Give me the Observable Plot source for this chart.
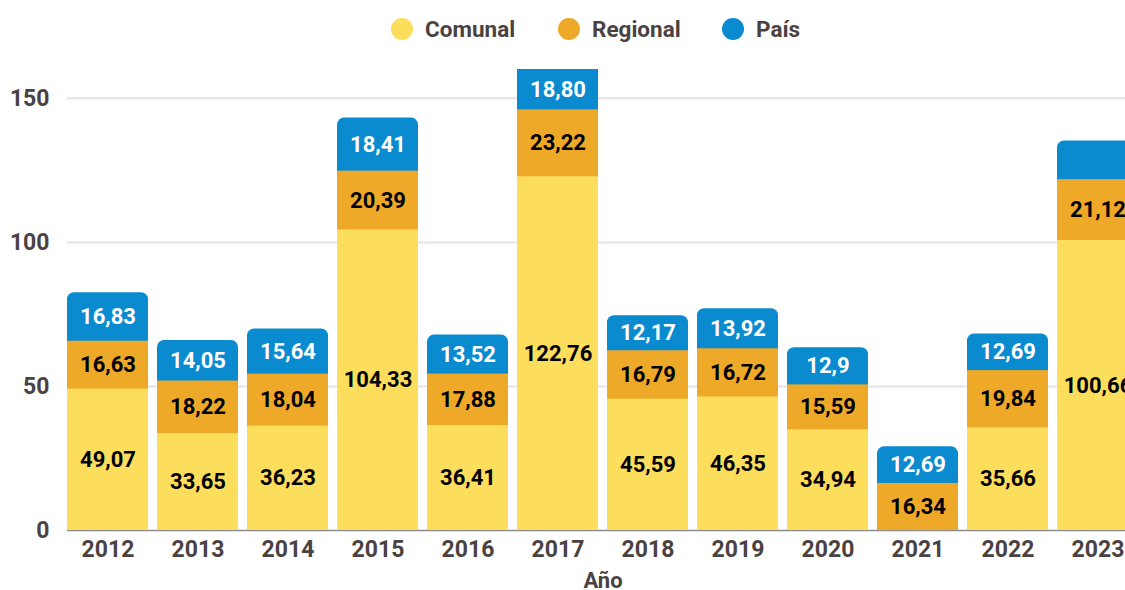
<!DOCTYPE html>
<html>
<head>
<meta charset="utf-8">
<script src="https://cdn.jsdelivr.net/npm/d3@7"></script>
<script src="https://cdn.jsdelivr.net/npm/@observablehq/plot@0.6"></script>
<style>
  html, body { margin: 0; padding: 0; background: #fff; overflow: hidden; }
  #wrap { position: relative; width: 1190px; height: 590px; font-family: Roboto, sans-serif; }
  #legend { position: absolute; left: 0; top: 0; width: 1190px; height: 56px; }
  .item { position: absolute; top: 16px; display: flex; align-items: center; font-weight: 700; font-size: 22.5px; color: #4a4242; white-space: nowrap; }
  .dot { width: 22px; height: 22px; border-radius: 50%; margin-right: 12px; }
  #chart { position: absolute; left: 0; top: 0; }
</style>
</head>
<body>
<div id="wrap">
  <div id="chart"></div>
  <div id="legend"></div>
</div>
<script>
const years = ["2012","2013","2014","2015","2016","2017","2018","2019","2020","2021","2022","2023"];
const seriesNames = ["Comunal", "Regional", "País"];
const seriesColors = ["#FDDD5C", "#EFA928", "#0A8ACF"];
const comunal  = ["49,07","33,65","36,23","104,33","36,41","122,76","45,59","46,35","34,94", null, "35,66","100,66"];
const regional = ["16,63","18,22","18,04","20,39","17,88","23,22","16,79","16,72","15,59","16,34","19,84","21,12"];
const pais     = ["16,83","14,05","15,64","18,41","13,52","18,80","12,17","13,92","12,9","12,69","12,69","13,4"];
const unlabeled = new Set(["País-2023"]);
const yTicks = [0, 50, 100, 150];
const yMax = 160;

const num = s => s == null ? 0 : +s.replace(",", ".");
const seriesValues = [comunal, regional, pais];

// cumulative tops per series (each series drawn from 0 to its cumulative top, later ones underneath)
const stacks = [];
const labels = [];
years.forEach((yr, i) => {
  let base = 0;
  seriesValues.forEach((arr, k) => {
    const v = num(arr[i]);
    stacks.push({year: yr, series: seriesNames[k], k, top: base + v});
    if (v > 0 && !unlabeled.has(seriesNames[k] + "-" + yr)) {
      labels.push({year: yr, series: seriesNames[k], label: arr[i],
        ym: (base + Math.min(base + v, yMax)) / 2});
    }
    base += v;
  });
});

const textColor = "#4a4242";

const chart = Plot.plot({
  width: 1190,
  height: 590,
  marginLeft: 67,
  marginRight: 52,
  marginTop: 69,
  marginBottom: 60,
  style: {fontFamily: "Roboto, sans-serif", background: "transparent", overflow: "visible"},
  x: {domain: years, paddingInner: 0.1, paddingOuter: 0, label: null},
  y: {domain: [0, yMax], label: null},
  color: {domain: seriesNames, range: seriesColors},
  marks: [
    Plot.ruleY(yTicks.filter(d => d > 0), {stroke: "#e4e4e4", strokeWidth: 2}),
    Plot.ruleY([0], {stroke: "#8c8c8c", strokeWidth: 1.5}),
    // País: full bar with rounded top
    Plot.barY(stacks.filter(d => d.k === 2), {x: "year", y: "top", fill: "series", rx: 7, clip: true}),
    Plot.barY(stacks.filter(d => d.k === 1 && d.top > 0), {x: "year", y: "top", fill: "series", clip: true}),
    Plot.barY(stacks.filter(d => d.k === 0 && d.top > 0), {x: "year", y: "top", fill: "series", clip: true}),
    Plot.text(labels, {
      x: "year", y: "ym", text: "label",
      fill: d => d.series === "País" ? "#ffffff" : "#000000",
      fontSize: 22, fontWeight: 700
    }),
    Plot.axisY({ticks: yTicks, tickSize: 0, tickPadding: 18, fontSize: 23, fontWeight: 700, color: textColor, label: null}),
    Plot.axisX({tickSize: 0, tickPadding: 10, fontSize: 23, fontWeight: 700, color: textColor, label: null}),
    Plot.text(["Año"], {frameAnchor: "bottom", dy: 57, fontSize: 22, fontWeight: 700, fill: textColor})
  ]
});
document.getElementById("chart").appendChild(chart);

const legendPos = [391, 558, 722];
const legend = document.getElementById("legend");
seriesNames.forEach((name, k) => {
  const it = document.createElement("div");
  it.className = "item";
  it.style.left = legendPos[k] + "px";
  const dot = document.createElement("span");
  dot.className = "dot";
  dot.style.background = seriesColors[k];
  const t = document.createElement("span");
  t.textContent = name;
  it.appendChild(dot);
  it.appendChild(t);
  legend.appendChild(it);
});
</script>
</body>
</html>
